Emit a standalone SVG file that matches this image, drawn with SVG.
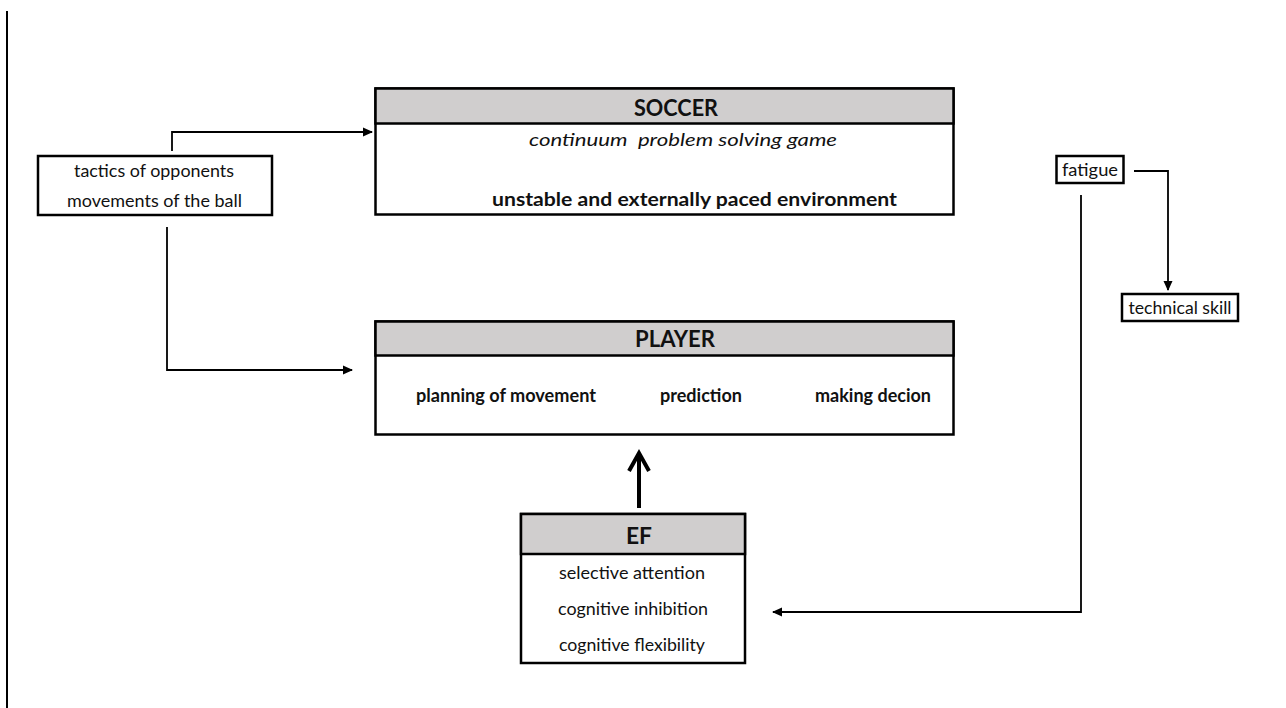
<svg xmlns="http://www.w3.org/2000/svg" width="1286" height="708" viewBox="0 0 1286 708">
<style>
text{font-family:Lato,"Open Sans","Liberation Sans",sans-serif;fill:#111;text-anchor:middle}
.box{fill:#fff;stroke:#000;stroke-width:2.5}
.hdr{fill:#d0cece;stroke:#000;stroke-width:2.5}
.t{font-size:17px}
.b{font-weight:bold;font-size:18px}
.h{font-weight:bold;font-size:23px}
.i{font-style:italic;font-size:18px}
.c{fill:none;stroke:#000;stroke-width:1.8}
</style>
<defs>
<marker id="ah" markerWidth="10" markerHeight="10" refX="9" refY="5" orient="auto" markerUnits="userSpaceOnUse">
<path d="M0,0.5 L10,5 L0,9.5 Z" fill="#000"/>
</marker>
</defs>
<rect width="1286" height="708" fill="#fff"/>
<line x1="7" y1="11" x2="7" y2="708" stroke="#000" stroke-width="2"/>

<g id="connectors">
<polyline class="c" points="172,151 172,132 372,132" marker-end="url(#ah)"/>
<polyline class="c" points="167,227 167,370 352,370" marker-end="url(#ah)"/>
<polyline class="c" points="1134,171 1168,171 1168,290" marker-end="url(#ah)"/>
<polyline class="c" points="1081,195 1081,612 773,612" marker-end="url(#ah)"/>
<line x1="639" y1="508" x2="639" y2="453" stroke="#000" stroke-width="4"/>
<polyline points="629,471 639,453 649,471" fill="none" stroke="#000" stroke-width="4" stroke-linejoin="miter"/>
</g>

<g id="tactics">
<rect class="box" x="38" y="156" width="234" height="59"/>
<text class="t" x="154" y="177" textLength="160" lengthAdjust="spacingAndGlyphs">tactics of opponents</text>
<text class="t" x="154.5" y="207" textLength="175" lengthAdjust="spacingAndGlyphs">movements of the ball</text>
</g>

<g id="soccer">
<rect class="box" x="375.5" y="88.5" width="578" height="126"/>
<rect class="hdr" x="375.5" y="88.5" width="578" height="35"/>
<text class="h" x="676" y="116" textLength="84" lengthAdjust="spacingAndGlyphs">SOCCER</text>
<text class="i" x="683" y="146" textLength="308" lengthAdjust="spacingAndGlyphs" xml:space="preserve">continuum  problem solving game</text>
<text class="b" x="694.5" y="206" textLength="405" lengthAdjust="spacingAndGlyphs">unstable and externally paced environment</text>
</g>

<g id="player">
<rect class="box" x="375.5" y="321.5" width="578" height="113"/>
<rect class="hdr" x="375.5" y="321.5" width="578" height="34"/>
<text class="h" x="675" y="347" textLength="80" lengthAdjust="spacingAndGlyphs">PLAYER</text>
<text class="b" x="506" y="402" textLength="180" lengthAdjust="spacingAndGlyphs">planning of movement</text>
<text class="b" x="701" y="402" textLength="82" lengthAdjust="spacingAndGlyphs">prediction</text>
<text class="b" x="873" y="402" textLength="116" lengthAdjust="spacingAndGlyphs">making decion</text>
</g>

<g id="ef">
<rect class="box" x="521" y="514" width="224" height="149"/>
<rect class="hdr" x="521" y="514" width="224" height="40"/>
<text class="h" x="639" y="544" textLength="26" lengthAdjust="spacingAndGlyphs">EF</text>
<text class="t" x="632" y="579" textLength="146" lengthAdjust="spacingAndGlyphs">selective attention</text>
<text class="t" x="633" y="615" textLength="150" lengthAdjust="spacingAndGlyphs">cognitive inhibition</text>
<text class="t" x="632" y="651" textLength="146" lengthAdjust="spacingAndGlyphs">cognitive flexibility</text>
</g>

<g id="fatigue">
<rect class="box" x="1056.5" y="156" width="67" height="27" stroke-width="3"/>
<text class="t" x="1090" y="176" textLength="56" lengthAdjust="spacingAndGlyphs">fatigue</text>
</g>

<g id="technical">
<rect class="box" x="1122" y="294" width="116" height="27" stroke-width="3"/>
<text class="t" x="1180" y="314" textLength="103" lengthAdjust="spacingAndGlyphs">technical skill</text>
</g>
</svg>
